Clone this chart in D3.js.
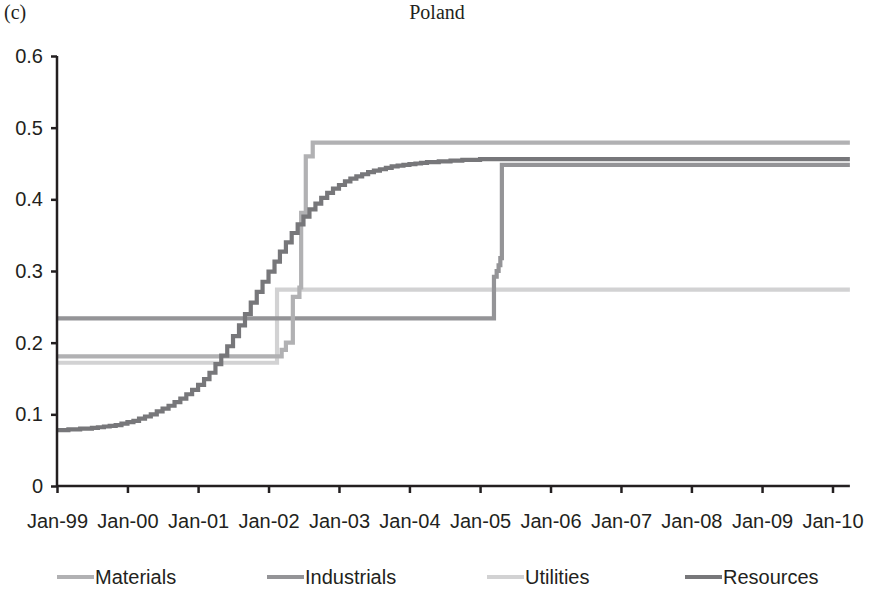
<!DOCTYPE html>
<html>
<head>
<meta charset="utf-8">
<script src="https://cdn.jsdelivr.net/npm/d3@7"></script>
<style>
  html, body { margin: 0; padding: 0; background: #fff; }
  svg { display: block; }
</style>
</head>
<body>
<svg id="chart" width="874" height="589"></svg>
<script>
// Sector series for Poland, 1999-2010 (values change at the listed dates, held until the next one)
const seriesNames = ["Materials", "Industrials", "Utilities", "Resources"];

const materialsDates  = ["1999-01-01", "2002-03-10", "2002-04-01", "2002-05-07", "2002-06-10", "2002-06-19", "2002-07-13", "2002-08-18", "2010-04-01"];
const materialsValues = [0.181, 0.190, 0.200, 0.264, 0.277, 0.381, 0.460, 0.479, 0.479];

const industrialsDates  = ["1999-01-01", "2005-03-14", "2005-03-28", "2005-04-07", "2005-04-16", "2005-04-24", "2010-04-01"];
const industrialsValues = [0.234, 0.292, 0.300, 0.308, 0.318, 0.448, 0.448];

const utilitiesDates  = ["1999-01-01", "2002-02-14", "2010-04-01"];
const utilitiesValues = [0.172, 0.274, 0.274];

// Resources: monthly values from Jan-99, flat after Jan-05
const resourcesStart = "1999-01-01";
const resourcesMonthly = [
  0.078, 0.078, 0.079, 0.079, 0.080, 0.080, 0.081, 0.082, 0.083, 0.084, 0.085, 0.087,
  0.089, 0.091, 0.094, 0.097, 0.100, 0.104, 0.108, 0.112, 0.117, 0.122, 0.128, 0.134,
  0.141, 0.149, 0.158, 0.170, 0.182, 0.195, 0.209, 0.224, 0.240, 0.256, 0.271, 0.285,
  0.299, 0.313, 0.327, 0.340, 0.353, 0.365, 0.376, 0.386, 0.394, 0.402, 0.409, 0.415,
  0.420, 0.425, 0.429, 0.432, 0.435, 0.438, 0.440, 0.442, 0.444, 0.446, 0.447, 0.448,
  0.449, 0.450, 0.451, 0.452, 0.452, 0.453, 0.453, 0.454, 0.454, 0.455, 0.455, 0.455,
  0.456
];
const resourcesEnd = "2010-04-01";

const yTicks = [0, 0.1, 0.2, 0.3, 0.4, 0.5, 0.6];
const xTickYears = [1999, 2000, 2001, 2002, 2003, 2004, 2005, 2006, 2007, 2008, 2009, 2010];

const colors = {
  Materials:   "#b1b1b3",
  Industrials: "#949497",
  Utilities:   "#d2d2d3",
  Resources:   "#77777a"
};

const parse = d3.timeParse("%Y-%m-%d");
const zip = (dates, vals) => dates.map((d, i) => ({ date: parse(d), value: vals[i] }));

const resourcesPoints = resourcesMonthly.map((v, i) => ({
  date: d3.timeMonth.offset(parse(resourcesStart), i), value: v
}));
resourcesPoints.push({ date: parse(resourcesEnd), value: resourcesMonthly[resourcesMonthly.length - 1] });

const data = {
  Materials:   zip(materialsDates, materialsValues),
  Industrials: zip(industrialsDates, industrialsValues),
  Utilities:   zip(utilitiesDates, utilitiesValues),
  Resources:   resourcesPoints
};

const svg = d3.select("#chart");

const x = d3.scaleTime()
  .domain([new Date(1999, 0, 1), new Date(2010, 0, 1)])
  .range([57, 832.5]);
const xEnd = x(parse(resourcesEnd));

const y = d3.scaleLinear().domain([0, 0.6]).range([486, 56]);

// Title
svg.append("text")
  .attr("x", 437).attr("y", 19)
  .attr("text-anchor", "middle")
  .attr("font-family", "'Liberation Serif', 'Times New Roman', serif")
  .attr("font-size", 20)
  .attr("fill", "#231f20")
  .text("Poland");

svg.append("text")
  .attr("x", 4).attr("y", 19)
  .attr("font-family", "'Liberation Serif', 'Times New Roman', serif")
  .attr("font-size", 20)
  .attr("fill", "#231f20")
  .text("(c)");

// Series lines
const line = d3.line()
  .x(d => x(d.date))
  .y(d => y(d.value))
  .curve(d3.curveStepAfter);

const drawOrder = ["Utilities", "Industrials", "Materials", "Resources"];
svg.append("g")
  .selectAll("path")
  .data(drawOrder)
  .join("path")
  .attr("d", k => line(data[k]))
  .attr("fill", "none")
  .attr("stroke", k => colors[k])
  .attr("stroke-width", 4.2)
  .attr("stroke-linejoin", "miter");

// Y axis
const yAxis = d3.axisLeft(y)
  .tickValues(yTicks)
  .tickFormat(d => d === 0 ? "0" : d3.format(".1f")(d))
  .tickSize(6)
  .tickPadding(8);
const gy = svg.append("g").attr("transform", "translate(57,0)").call(yAxis);
gy.select(".domain").attr("stroke", "#231f20").attr("stroke-width", 2.5)
  .attr("d", `M0,${y(0)}V${y(0.6)}`);
gy.selectAll(".tick line").attr("stroke", "#231f20").attr("stroke-width", 2.5);
gy.selectAll(".tick text")
  .attr("font-family", "'Liberation Sans', Arial, sans-serif")
  .attr("font-size", 20)
  .attr("fill", "#231f20");

// X axis
const xAxis = d3.axisBottom(x)
  .tickValues(xTickYears.map(yr => new Date(yr, 0, 1)))
  .tickFormat(d3.timeFormat("Jan-%y"))
  .tickSize(7)
  .tickPadding(21);
const gx = svg.append("g").attr("transform", `translate(0,${y(0)})`).call(xAxis);
gx.select(".domain").attr("stroke", "#231f20").attr("stroke-width", 2.5)
  .attr("d", `M57,0H${xEnd}`);
gx.selectAll(".tick line").attr("stroke", "#231f20").attr("stroke-width", 2.5);
gx.selectAll(".tick text")
  .attr("font-family", "'Liberation Sans', Arial, sans-serif")
  .attr("font-size", 20)
  .attr("fill", "#231f20");

// Legend
const legendX = [57, 267, 487, 685];
const legend = svg.append("g")
  .selectAll("g")
  .data(seriesNames)
  .join("g")
  .attr("transform", (d, i) => `translate(${legendX[i]},577)`);
legend.append("line")
  .attr("x1", 0).attr("x2", 37)
  .attr("stroke", d => colors[d])
  .attr("stroke-width", 4.2);
legend.append("text")
  .attr("x", 38).attr("y", 7)
  .attr("font-family", "'Liberation Sans', Arial, sans-serif")
  .attr("font-size", 20)
  .attr("fill", "#231f20")
  .text(d => d);
</script>
</body>
</html>
